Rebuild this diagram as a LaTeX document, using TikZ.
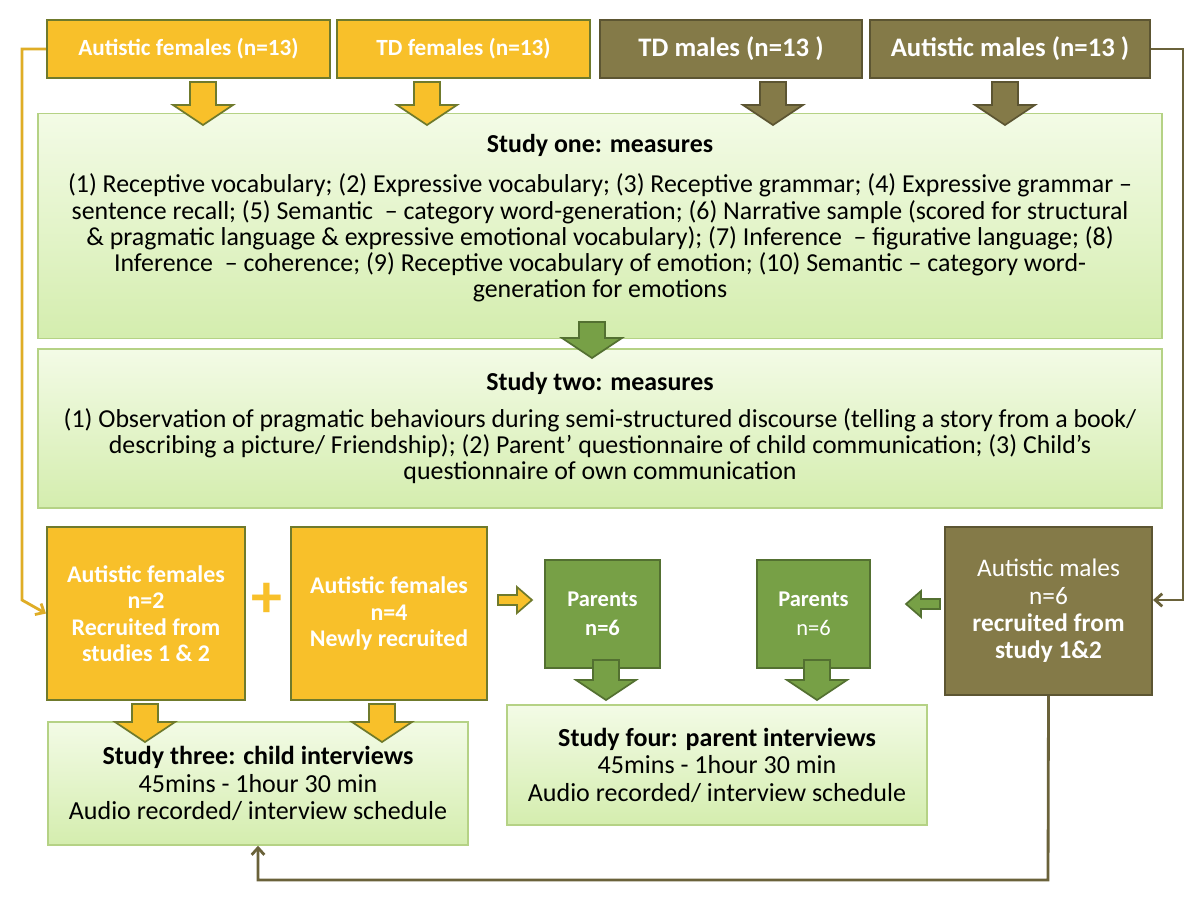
\documentclass[tikz,border=0pt]{standalone}
\usepackage{fontspec}
\setmainfont{Carlito}
\usetikzlibrary{arrows.meta}
\definecolor{yel}{HTML}{F8C02A}
\definecolor{olv}{HTML}{6F7A2C}
\definecolor{dko}{HTML}{847A48}
\definecolor{grn}{HTML}{77A046}
\definecolor{lg1}{HTML}{F3FBE6}
\definecolor{lg2}{HTML}{D4EDAE}
\definecolor{lgb}{HTML}{B5D285}
\newcommand\mydarr[5]{% x, ytop, ybot, fill, draw
 \fill[#4,draw=#5,line width=1.2pt] (#1-13,#2)--(#1+13,#2)--(#1+13,#3-20)--(#1+30,#3-20)--(#1,#3)--(#1-30,#3-20)--(#1-13,#3-20)--cycle;}
\begin{document}
\begin{tikzpicture}[x=0.025cm,y=-0.025cm,
 yb/.style={fill=yel,draw=olv,line width=1.5pt,text=white,font=\bfseries\fontsize{16.5}{19}\selectfont,align=center,inner sep=0pt},
 ob/.style={fill=dko,draw=dko!70!black,line width=1.5pt,text=white,font=\bfseries\fontsize{19}{22}\selectfont,align=center,inner sep=0pt},
 gb/.style={fill=grn,draw=grn!70!black,line width=1.5pt,text=white,font=\bfseries\fontsize{15}{19}\selectfont,align=center,inner sep=0pt},
 lb/.style={top color=lg1,bottom color=lg2,draw=lgb,line width=1pt,align=center,font=\fontsize{18.4}{18.6}\selectfont,inner sep=0pt},
 tx/.style={font=\fontsize{18.4}{18.6}\selectfont,align=center,inner sep=0pt},
 ln/.style={line width=2pt}]
\useasboundingbox (0,0) rectangle (1200,901);
\fill[white] (0,0) rectangle (1200,901);
% top boxes
\node[yb,minimum width=283*0.025cm,minimum height=58*0.025cm] (af) at (188.5,49) {Autistic females (n=13)};
\node[yb,minimum width=253*0.025cm,minimum height=58*0.025cm] (tf) at (463.5,49) {TD females (n=13)};
\node[ob,minimum width=262*0.025cm,minimum height=58*0.025cm] (tm) at (731,49) {TD males (n=13 )};
\node[ob,minimum width=280*0.025cm,minimum height=58*0.025cm] (am) at (1010,49) {Autistic males (n=13 )};
% study one
\node[lb,minimum width=1124*0.025cm,minimum height=225*0.025cm] (s1) at (600,226) {};
\node[tx,font=\bfseries\fontsize{18.4}{18.6}\selectfont] (s1t) at (600,145) {Study one: measures};
\node[tx] (s1b) at (600,238) {(1) Receptive vocabulary; (2) Expressive vocabulary; (3) Receptive grammar; (4) Expressive grammar –\\ sentence recall; (5) Semantic~ – category word-generation; (6) Narrative sample (scored for structural\\ \& pragmatic language \& expressive emotional vocabulary); (7) Inference~ – figurative language; (8)\\ Inference~ – coherence; (9) Receptive vocabulary of emotion; (10) Semantic – category word-\\ generation for emotions};
\mydarr{203}{82}{125}{yel}{olv}
\mydarr{427}{82}{125}{yel}{olv}
\mydarr{773}{82}{125}{dko}{dko!70!black}
\mydarr{1005}{82}{125}{dko}{dko!70!black}
% study two
\node[lb,minimum width=1124*0.025cm,minimum height=159*0.025cm] (s2) at (600,428.5) {};
\node[tx,font=\bfseries\fontsize{18.4}{18.6}\selectfont] (s2t) at (600,383) {Study two: measures};
\node[tx] (s2b) at (600,446) {(1) Observation of pragmatic behaviours during semi-structured discourse (telling a story from a book/\\ describing a picture/ Friendship); (2) Parent’ questionnaire of child communication; (3) Child’s\\ questionnaire of own communication};
\mydarr{592}{322}{358}{grn}{grn!70!black}
% bottom row
\node[yb,font=\bfseries\fontsize{17}{18.8}\selectfont,minimum width=198*0.025cm,minimum height=173*0.025cm] (fa) at (146,613.5) {Autistic females\\n=2\\Recruited from\\studies 1 \& 2};
\node[yb,font=\bfseries\fontsize{17}{18.8}\selectfont,minimum width=196*0.025cm,minimum height=173*0.025cm] (fb) at (389,613.5) {Autistic females\\n=4\\Newly recruited};
\node[text=yel,font=\bfseries\fontsize{44}{44}\selectfont,inner sep=0pt] (plus) at (267,600) {+};
\node[gb,font=\bfseries\fontsize{16}{21}\selectfont,minimum width=115*0.025cm,minimum height=108*0.025cm] (p1) at (602.5,614) {Parents\\n=6};
\node[gb,font=\fontsize{16}{21}\selectfont,minimum width=113*0.025cm,minimum height=108*0.025cm] (p2) at (813.5,614) {\textbf{Parents}\\n=6};
\node[ob,font=\fontsize{18}{19.5}\selectfont,minimum width=207*0.025cm,minimum height=168*0.025cm] (mm) at (1048.5,611) {Autistic males\\n=6\\\textbf{recruited from}\\\textbf{study 1\&2}};
% horizontal block arrows
\fill[yel,draw=olv,line width=1.2pt] (498,595)--(517,595)--(517,587)--(532,600)--(517,613)--(517,605)--(498,605)--cycle;
\fill[grn,draw=grn!70!black,line width=1.2pt] (940,599)--(921,599)--(921,591)--(906,604)--(921,617)--(921,609)--(940,609)--cycle;
% studies three/four
\node[lb,font=\fontsize{18.5}{19.5}\selectfont,minimum width=420*0.025cm,minimum height=123*0.025cm] (s3) at (258,783.5) {\textbf{Study three: child interviews}\\45mins - 1hour 30 min\\Audio recorded/ interview schedule};
\node[lb,font=\fontsize{18.5}{19.5}\selectfont,minimum width=420*0.025cm,minimum height=120*0.025cm] (s4) at (717,765) {\textbf{Study four: parent interviews}\\45mins - 1hour 30 min\\Audio recorded/ interview schedule};
\mydarr{145}{704}{742}{yel}{olv}
\mydarr{382}{704}{742}{yel}{olv}
\mydarr{606}{660}{700}{grn}{grn!70!black}
\mydarr{817}{660}{700}{grn}{grn!70!black}
% connectors
\coordinate (c1) at (22,49); \coordinate (c2) at (22,600);
\draw[ln,draw=yel!90!black,-{Straight Barb[length=5pt,width=9pt]}] (af.west)--(c1)--(c2)--(fa.west);
\coordinate (c3) at (1183,49); \coordinate (c4) at (1183,600);
\draw[ln,draw=dko!80!black,-{Straight Barb[length=5pt,width=9pt]}] (am.east)--(c3)--(c4)--(c4-|mm.east);
\coordinate (c5) at (1048,880); \coordinate (c6) at (258,880);
\draw[ln,draw=dko!80!black,-{Straight Barb[length=5pt,width=9pt]}] (mm.south)--(c5)--(c6)--(s3.south);
\end{tikzpicture}
\end{document}
